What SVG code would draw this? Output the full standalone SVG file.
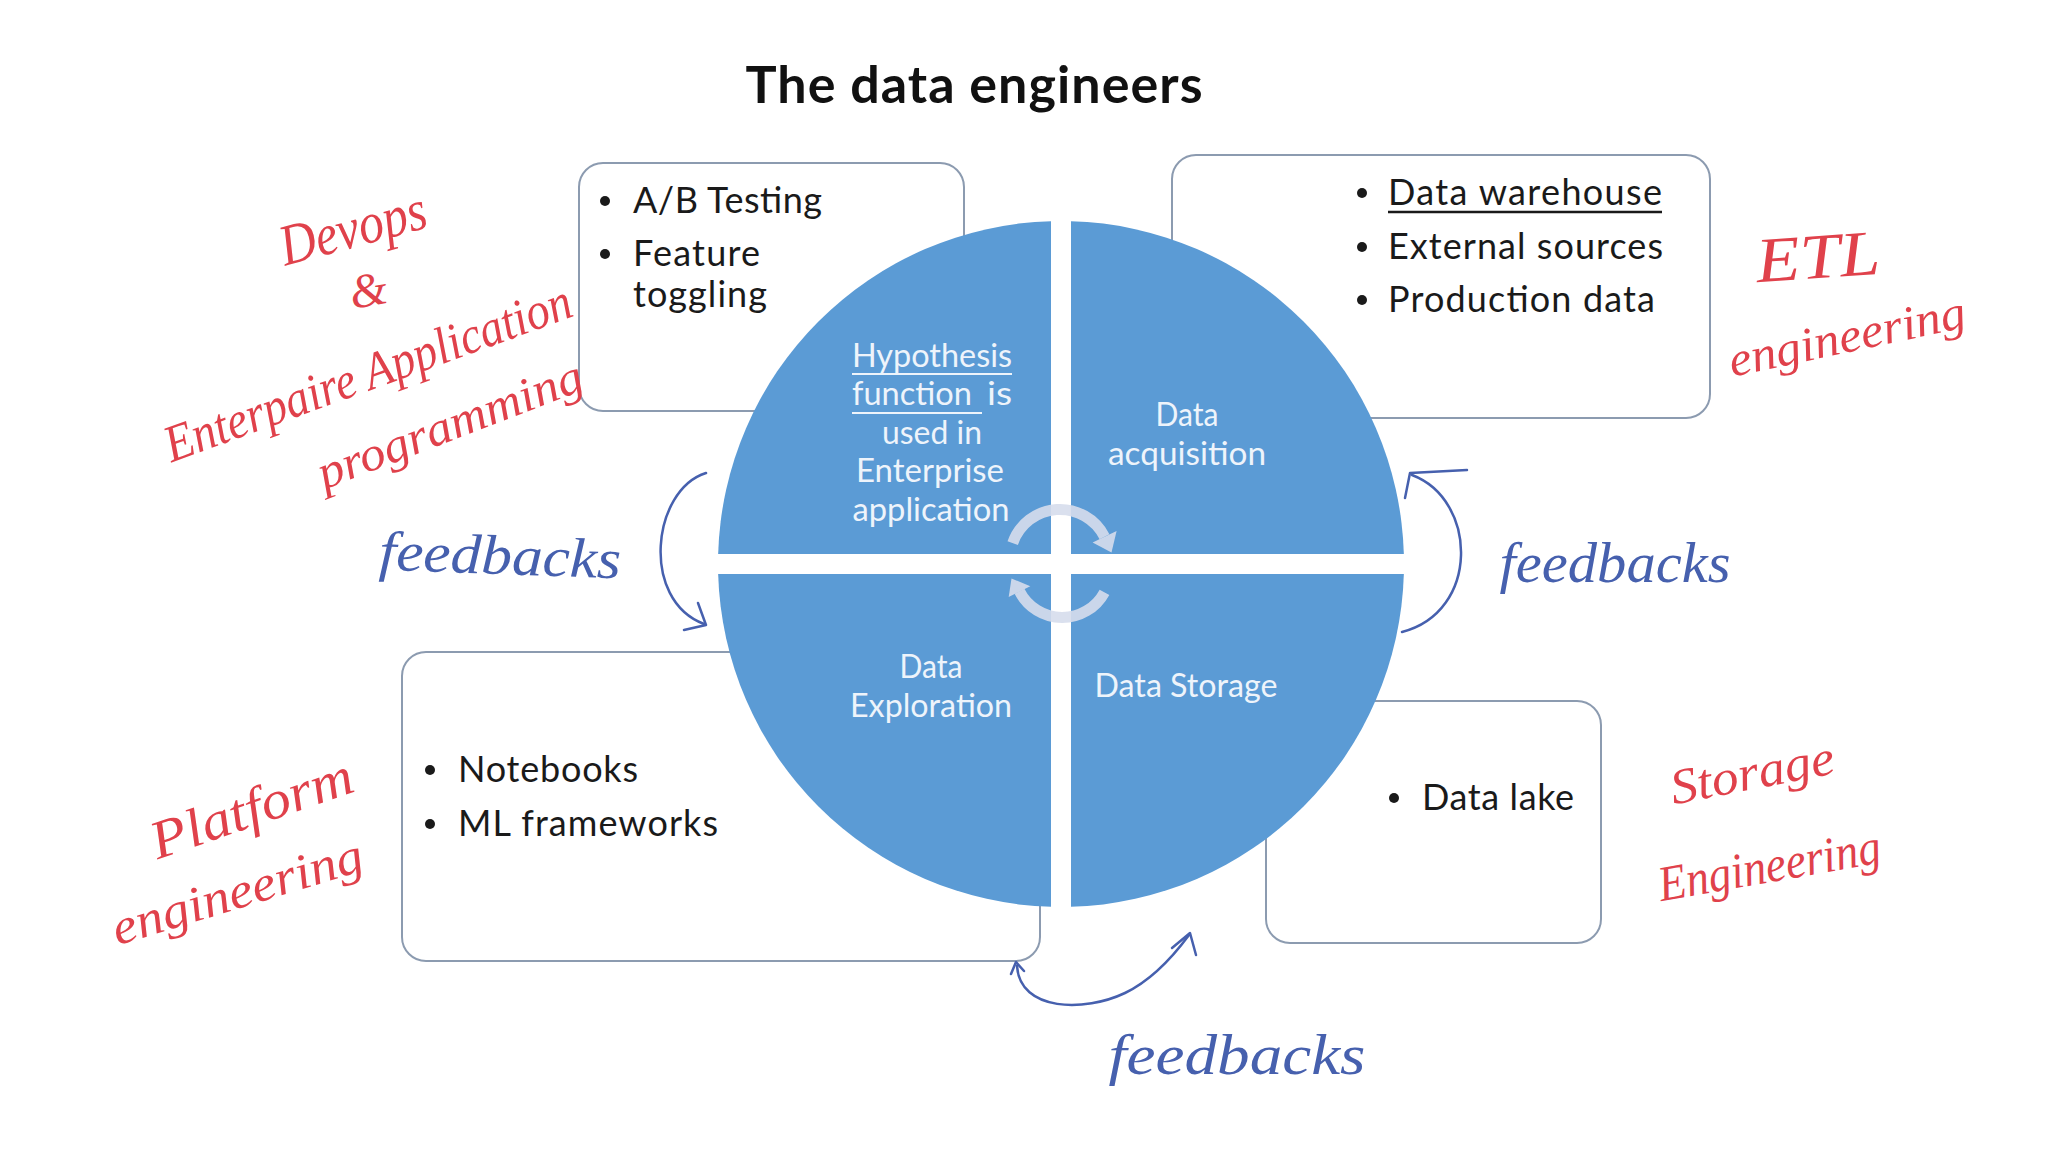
<svg xmlns="http://www.w3.org/2000/svg" width="2048" height="1152" viewBox="0 0 2048 1152">
  <defs>
    <style>
      .box { fill: #ffffff; stroke: #8C9BB0; stroke-width: 2; }
      .btxt { font-family: Lato, "Open Sans", "Liberation Sans", sans-serif; font-size: 36px; fill: #1a1a1a; }
      .bul { fill: #1a1a1a; }
      .quad { fill: #5B9BD5; }
      .qtxt { font-family: Lato, "Open Sans", "Liberation Sans", sans-serif; font-size: 32px; fill: #EEF4FB; text-anchor: middle; }
      .qline { stroke: #EEF4FB; stroke-width: 2; }
      .cyc { fill: none; stroke: #D6DDEC; stroke-width: 11; opacity: 0.9; }
      .cychead { fill: #D6DDEC; opacity: 0.9; }
      .red { font-family: "Liberation Serif", "DejaVu Serif", serif; font-style: italic; fill: #E0414B; text-anchor: middle; }
      .blue { font-family: "Liberation Serif", "DejaVu Serif", serif; font-style: italic; fill: #4660AE; text-anchor: middle; }
      .fb { fill: none; stroke: #4660AE; stroke-width: 2.5; stroke-linecap: round; stroke-linejoin: round; }
    </style>
  </defs>
  <rect x="0" y="0" width="2048" height="1152" fill="#ffffff"/>

  <g id="title">
    <text x="974" y="103" text-anchor="middle" textLength="457" font-family="Lato, 'Liberation Sans', sans-serif" font-weight="bold" font-size="52" fill="#111111">The data engineers</text>
  </g>

  <g id="box-top-left">
    <rect class="box" x="579" y="163" width="385" height="248" rx="24"/>
    <circle class="bul" cx="605" cy="201" r="5"/>
    <text class="btxt" x="633" y="213" textLength="189">A/B Testing</text>
    <circle class="bul" cx="605" cy="254" r="5"/>
    <text class="btxt" x="633" y="266" textLength="127">Feature</text>
    <text class="btxt" x="633" y="307" textLength="134">toggling</text>
  </g>

  <g id="box-top-right">
    <rect class="box" x="1172" y="155" width="538" height="263" rx="24"/>
    <circle class="bul" cx="1362" cy="193" r="5"/>
    <text class="btxt" x="1388" y="205" textLength="274">Data warehouse</text>
    <line x1="1388" y1="212" x2="1662" y2="212" stroke="#1a1a1a" stroke-width="2.5"/>
    <circle class="bul" cx="1362" cy="247" r="5"/>
    <text class="btxt" x="1388" y="259" textLength="275">External sources</text>
    <circle class="bul" cx="1362" cy="300" r="5"/>
    <text class="btxt" x="1388" y="312" textLength="267">Production data</text>
  </g>

  <g id="box-bottom-left">
    <rect class="box" x="402" y="652" width="638" height="309" rx="24"/>
    <circle class="bul" cx="430" cy="770" r="5"/>
    <text class="btxt" x="458" y="782" textLength="180">Notebooks</text>
    <circle class="bul" cx="430" cy="824" r="5"/>
    <text class="btxt" x="458" y="836" textLength="260">ML frameworks</text>
  </g>

  <g id="box-bottom-right">
    <rect class="box" x="1266" y="701" width="335" height="242" rx="24"/>
    <circle class="bul" cx="1394" cy="798" r="5"/>
    <text class="btxt" x="1422" y="810" textLength="152">Data lake</text>
  </g>

  <g id="quadrant-hypothesis">
    <path class="quad" d="M 1051 554 L 1051 221.15 A 343 343 0 0 0 718.15 554 Z"/>
    <text class="qtxt" x="932" y="367" textLength="160" lengthAdjust="spacingAndGlyphs">Hypothesis</text>
    <line class="qline" x1="852" y1="374" x2="1012" y2="374"/>
    <text class="qtxt" x="852" y="405" textLength="120" lengthAdjust="spacingAndGlyphs" style="text-anchor:start">function</text>
    <text class="qtxt" x="987" y="405" textLength="25" lengthAdjust="spacingAndGlyphs" style="text-anchor:start">is</text>
    <line class="qline" x1="852" y1="413" x2="982" y2="413"/>
    <text class="qtxt" x="932" y="444" textLength="100" lengthAdjust="spacingAndGlyphs">used in</text>
    <text class="qtxt" x="930" y="482" textLength="148" lengthAdjust="spacingAndGlyphs">Enterprise</text>
    <text class="qtxt" x="931" y="521" textLength="157" lengthAdjust="spacingAndGlyphs">application</text>
  </g>

  <g id="quadrant-acquisition">
    <path class="quad" d="M 1071 554 L 1403.85 554 A 343 343 0 0 0 1071 221.15 Z"/>
    <text class="qtxt" x="1187" y="426" textLength="63" lengthAdjust="spacingAndGlyphs">Data</text>
    <text class="qtxt" x="1187" y="465" textLength="158" lengthAdjust="spacingAndGlyphs">acquisition</text>
  </g>

  <g id="quadrant-exploration">
    <path class="quad" d="M 1051 574 L 718.15 574 A 343 343 0 0 0 1051 906.85 Z"/>
    <text class="qtxt" x="931" y="678" textLength="63" lengthAdjust="spacingAndGlyphs">Data</text>
    <text class="qtxt" x="931" y="717" textLength="162" lengthAdjust="spacingAndGlyphs">Exploration</text>
  </g>

  <g id="quadrant-storage">
    <path class="quad" d="M 1071 574 L 1071 906.85 A 343 343 0 0 0 1403.85 574 Z"/>
    <text class="qtxt" x="1186" y="697" textLength="183" lengthAdjust="spacingAndGlyphs">Data Storage</text>
  </g>

  <g id="cycle-arrows">
    <path class="cyc" d="M 1012.7 543.1 A 50 50 0 0 1 1104.5 536.7"/>
    <polygon class="cychead" points="1116.6,530.9 1092.6,542.4 1111.5,552.5"/>
    <path class="cyc" d="M 1104.5 592.3 A 48 48 0 0 1 1019.5 591.3"/>
    <polygon class="cychead" points="1008.7,597.0 1030.3,586.2 1011.5,578.5"/>
  </g>

  <g id="annotations">
    <text class="red" font-size="58" textLength="150" lengthAdjust="spacingAndGlyphs" transform="translate(353,229) rotate(-15)" y="18">Devops</text>
    <text class="red" font-size="48" transform="translate(368,290) rotate(-10)" y="16">&amp;</text>
    <text class="red" font-size="52" textLength="430" lengthAdjust="spacingAndGlyphs" transform="translate(368,374) rotate(-20)" y="16">Enterpaire Application</text>
    <text class="red" font-size="48" textLength="281" lengthAdjust="spacingAndGlyphs" transform="translate(451,428) rotate(-21)" y="12">programming</text>
    <text class="red" font-size="64" textLength="124" lengthAdjust="spacingAndGlyphs" transform="translate(1818,258) rotate(-4)" y="20">ETL</text>
    <text class="red" font-size="48" textLength="241" lengthAdjust="spacingAndGlyphs" transform="translate(1848,342) rotate(-12)" y="10">engineering</text>
    <text class="red" font-size="54" textLength="211" lengthAdjust="spacingAndGlyphs" transform="translate(252,810) rotate(-19)" y="16">Platform</text>
    <text class="red" font-size="50" textLength="260" lengthAdjust="spacingAndGlyphs" transform="translate(239,898) rotate(-17)" y="10">engineering</text>
    <text class="red" font-size="50" textLength="166" lengthAdjust="spacingAndGlyphs" transform="translate(1753,777) rotate(-11)" y="12">Storage</text>
    <text class="red" font-size="50" textLength="225" lengthAdjust="spacingAndGlyphs" transform="translate(1770,870) rotate(-10)" y="12">Engineering</text>
    <text class="blue" font-size="56" textLength="242" lengthAdjust="spacingAndGlyphs" transform="translate(500,560) rotate(2)" y="14">feedbacks</text>
    <text class="blue" font-size="56" textLength="231" lengthAdjust="spacingAndGlyphs" transform="translate(1615,568)" y="14">feedbacks</text>
    <text class="blue" font-size="56" textLength="257" lengthAdjust="spacingAndGlyphs" transform="translate(1237,1060)" y="14">feedbacks</text>
  </g>

  <g id="connectors">
    <path class="fb" d="M 706 473 C 652 490, 640 600, 704 624"/>
    <path class="fb" d="M 684 630 L 706 625 L 698 603"/>
    <path class="fb" d="M 1402 632 C 1480 612, 1478 500, 1412 475"/>
    <path class="fb" d="M 1467 470 L 1410 473 L 1405 498"/>
    <path class="fb" d="M 1017 966 C 1020 1012, 1085 1012, 1125 993 C 1152 980, 1172 958, 1189 935"/>
    <path class="fb" d="M 1172 948 L 1190 933 L 1196 955"/>
    <path class="fb" d="M 1011 974 L 1016 962 L 1024 971"/>
  </g>
</svg>
